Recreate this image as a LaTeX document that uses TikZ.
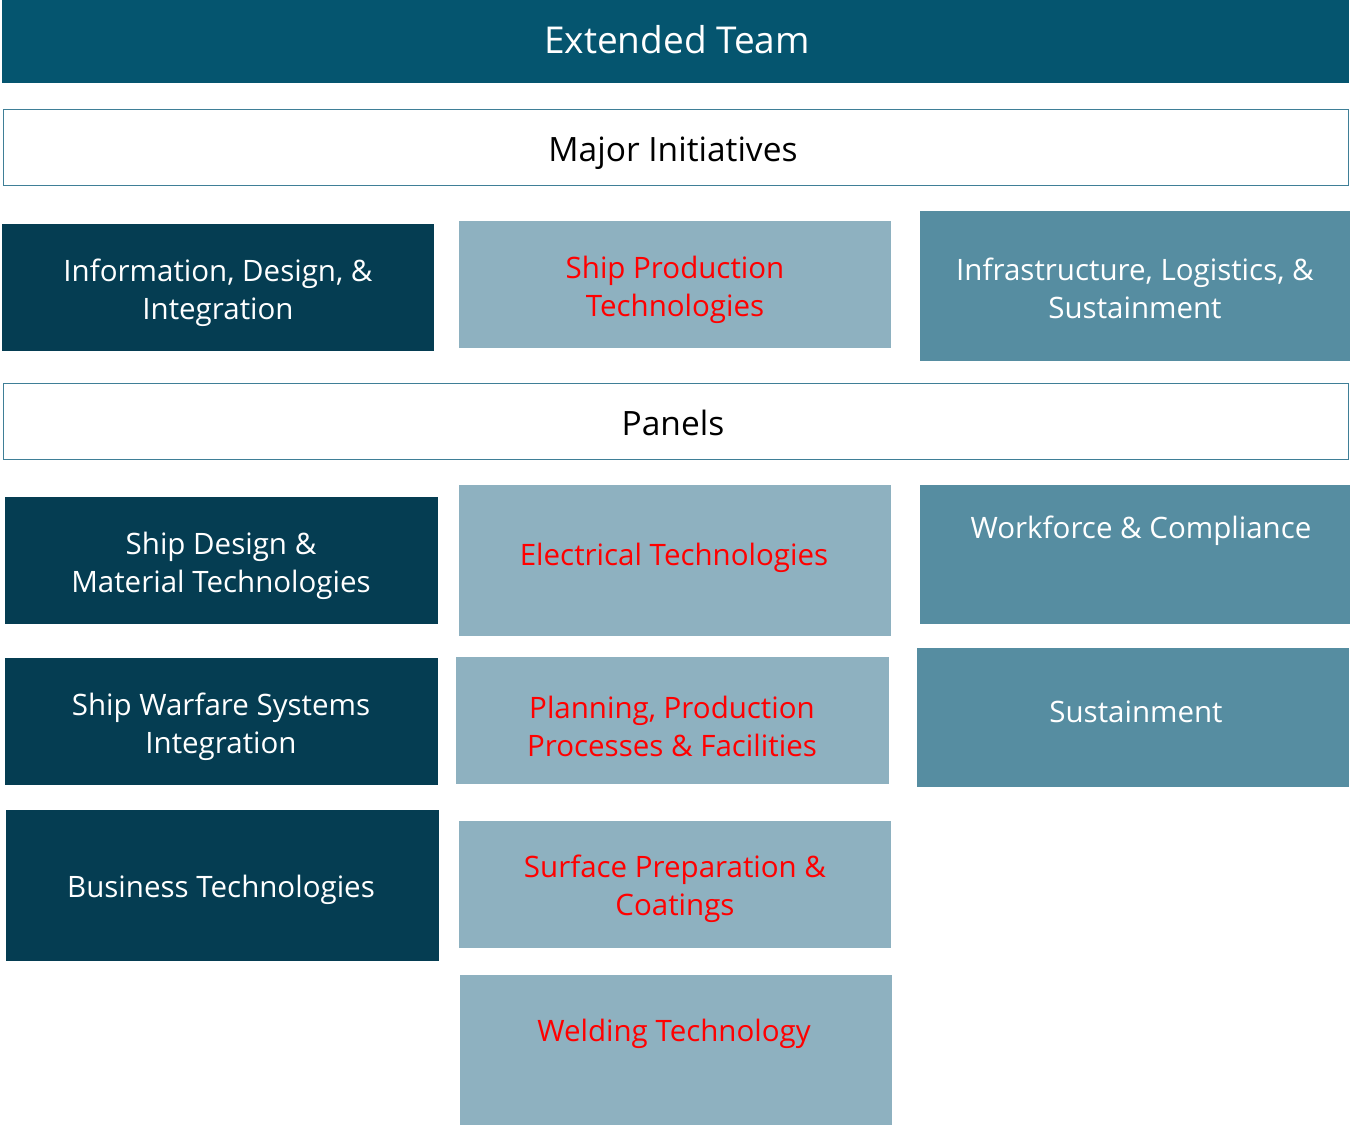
\documentclass[tikz,border=0pt]{standalone}
\usepackage{fontspec}
\setmainfont{Open Sans}
\definecolor{topc}{HTML}{05556F}
\definecolor{darkc}{HTML}{053D52}
\definecolor{lightc}{HTML}{8EB1C0}
\definecolor{midc}{HTML}{568DA1}
\definecolor{edgec}{HTML}{3F7F97}
\definecolor{redc}{HTML}{FF0000}
\begin{document}
\begin{tikzpicture}[x=1pt,y=-1pt,
  box/.style={draw=none,inner sep=0pt,anchor=north west},
  bandbox/.style={draw=edgec,line width=1.2pt,fill=white,inner sep=0pt,anchor=north west},
  txt/.style={align=center,inner sep=0pt,yshift=-3pt,font=\fontsize{29.5}{38}\selectfont},
  wtxt/.style={txt,text=white},
  rtxt/.style={txt,text=redc},
  ktxt/.style={align=center,inner sep=0pt,font=\fontsize{33.5}{38}\selectfont,text=black}]
\useasboundingbox (0,0) rectangle (1350,1127);
% top band
\node[box,fill=topc,minimum width=1347pt,minimum height=83pt] (ext) at (2,0) {};
\node[align=center,inner sep=0pt,font=\fontsize{37}{40}\selectfont,text=white] (extt) at (677,40) {Extended Team};
% Major initiatives band
\node[bandbox,minimum width=1345pt,minimum height=76pt] (maj) at (3,108.5) {};
\node[ktxt] (majt) at (673,153) {Major Initiatives};
% row 1
\node[box,fill=darkc,minimum width=432pt,minimum height=127pt] (idi) at (2,224) {};
\node[wtxt] (idit) at (218,289.5) {Information, Design, \&\\Integration};
\node[box,fill=lightc,minimum width=432pt,minimum height=127pt] (spt) at (459,221) {};
\node[rtxt] (sptt) at (675,286.5) {Ship Production\\Technologies};
\node[box,fill=midc,minimum width=430pt,minimum height=150pt] (ils) at (920,211) {};
\node[wtxt] (ilst) at (1135,285) {Infrastructure, Logistics, \&\\Sustainment};
% Panels band
\node[bandbox,minimum width=1345pt,minimum height=76pt] (pan) at (3,382.5) {};
\node[ktxt] (pant) at (673,423) {Panels};
% left column
\node[box,fill=darkc,minimum width=433pt,minimum height=127pt] (sdm) at (5,497) {};
\node[wtxt] (sdmt) at (221,563) {Ship Design \&\\Material Technologies};
\node[box,fill=darkc,minimum width=433pt,minimum height=127pt] (sws) at (5,658) {};
\node[wtxt] (swst) at (221,724) {Ship Warfare Systems\\Integration};
\node[box,fill=darkc,minimum width=433pt,minimum height=151pt] (bus) at (6,810) {};
\node[wtxt] (bust) at (221,887) {Business Technologies};
% middle column
\node[box,fill=lightc,minimum width=432pt,minimum height=151pt] (ele) at (459,485) {};
\node[rtxt] (elet) at (674,555) {Electrical Technologies};
\node[box,fill=lightc,minimum width=433pt,minimum height=127pt] (ppp) at (456,657) {};
\node[rtxt] (pppt) at (672,723) {Planning, Production\\Processes \& Facilities};
\node[box,fill=lightc,minimum width=432pt,minimum height=127pt] (spc) at (459,821) {};
\node[rtxt] (spct) at (675,886) {Surface Preparation \&\\Coatings};
\node[box,fill=lightc,minimum width=432pt,minimum height=150pt] (wel) at (460,975) {};
\node[rtxt] (welt) at (674,1031) {Welding Technology};
% right column
\node[box,fill=midc,minimum width=430pt,minimum height=139pt] (wfc) at (920,485) {};
\node[wtxt] (wfct) at (1141,528) {Workforce \& Compliance};
\node[box,fill=midc,minimum width=432pt,minimum height=139pt] (sus) at (917,648) {};
\node[wtxt] (sust) at (1136,709) {Sustainment};
\end{tikzpicture}
\end{document}
